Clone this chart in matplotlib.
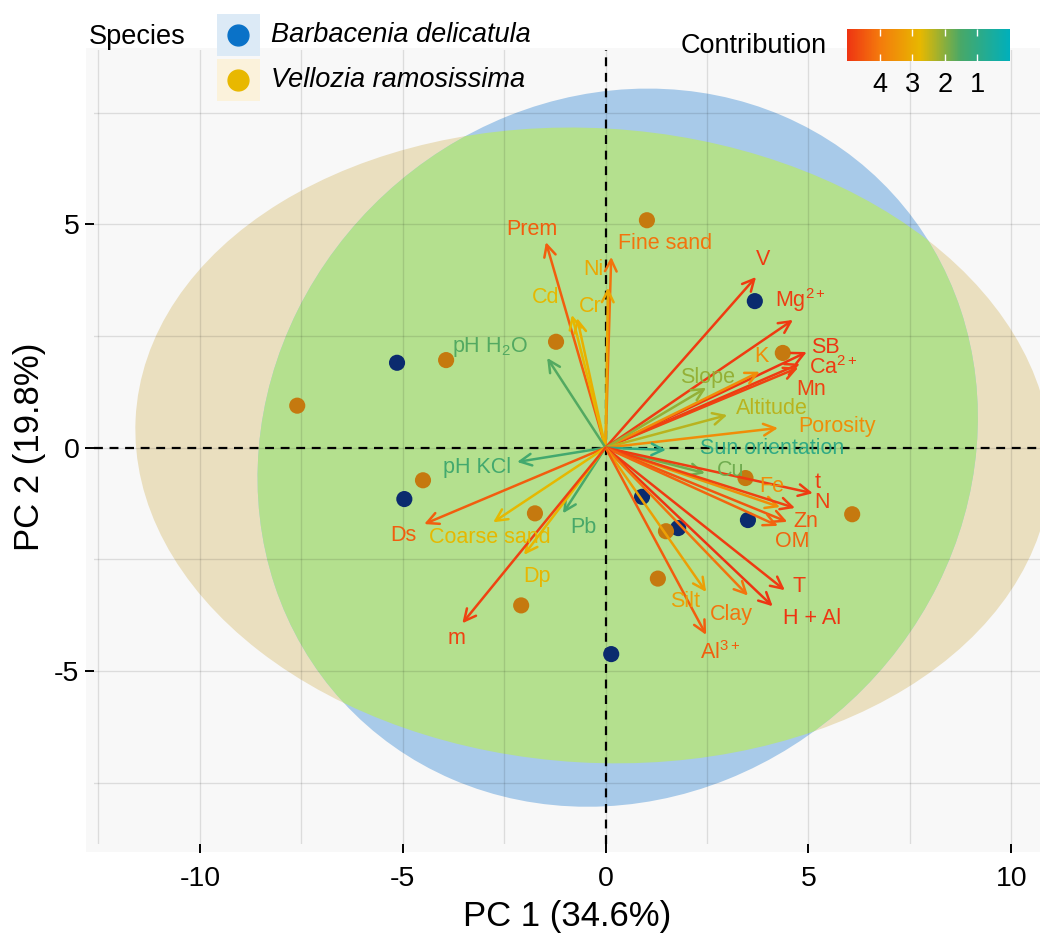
import matplotlib
matplotlib.use("Agg")
import matplotlib.pyplot as plt
import numpy as np
from matplotlib.patches import Ellipse, Rectangle
from matplotlib.lines import Line2D
from matplotlib.colors import LinearSegmentedColormap, Normalize
from matplotlib.cm import ScalarMappable

plt.rcParams['font.family'] = ['Liberation Sans', 'DejaVu Sans']
plt.rcParams['mathtext.fontset'] = 'custom'
plt.rcParams['mathtext.rm'] = 'Liberation Sans'
plt.rcParams['mathtext.it'] = 'Liberation Sans:italic'
plt.rcParams['axes.unicode_minus'] = False

# ---------------- data ----------------
species = ["Barbacenia delicatula", "Vellozia ramosissima"]

barb_pc1 = [-5.14, 3.68, -4.96, 0.90, 1.79, 3.51, 0.14]
barb_pc2 = [1.90, 3.28, -1.15, -1.10, -1.80, -1.62, -4.62]

vell_pc1 = [-7.60, -3.93, -1.22, 1.02, 4.37, 3.45, 6.08, -4.50, -1.74, 1.49, 1.29, -2.08]
vell_pc2 = [0.94, 1.96, 2.37, 5.09, 2.12, -0.68, -1.49, -0.73, -1.47, -1.87, -2.93, -3.53]

# confidence ellipses: center x, center y, semi-axis a, semi-axis b, angle (deg)
barb_ellipse = [0.3, 0.0, 9.0, 7.9, 20]
vell_ellipse = [-0.3, 0.05, 11.3, 7.1, -3]

var_names = ["Prem", "Fine sand", "Ni", "Cd", "Cr", "pH H$_2$O", "V", "Mg$^{2+}$",
             "SB", "Ca$^{2+}$", "Mn", "K", "Slope", "Altitude", "Porosity",
             "Sun orientation", "Cu", "Fe", "t", "N", "Zn", "OM", "T", "H + Al",
             "Clay", "Silt", "Al$^{3+}$", "pH KCl", "Ds", "Coarse sand", "Pb",
             "Dp", "m"]
var_pc1 = [-1.47, 0.14, 0.06, -0.83, -0.70, -1.44, 3.71, 4.62,
           4.96, 4.79, 4.75, 3.80, 2.48, 3.00, 4.25,
           1.49, 2.45, 4.30, 5.11, 4.67, 4.48, 4.25, 4.42, 4.12,
           3.51, 2.48, 2.48, -2.18, -4.47, -2.77, -1.05,
           -2.01, -3.53]
var_pc2 = [4.60, 4.27, 3.58, 2.97, 2.90, 2.01, 3.82, 2.86,
           2.14, 1.88, 1.79, 1.70, 1.34, 0.73, 0.44,
           -0.05, -0.57, -1.33, -1.02, -1.35, -1.66, -1.75, -3.19, -3.55,
           -3.31, -3.23, -4.19, -0.32, -1.71, -1.67, -1.47,
           -2.40, -3.93]
var_contrib = [4.4, 4.1, 3.1, 2.75, 2.9, 1.6, 4.9, 4.9,
               5.0, 4.9, 4.8, 3.6, 2.1, 2.4, 3.6,
               1.0, 1.8, 3.6, 4.9, 4.8, 4.5, 4.3, 4.9, 5.0,
               4.1, 3.25, 4.4, 1.4, 4.4, 2.75, 1.5,
               2.8, 4.8]
contrib_ticks = [4, 3, 2, 1]
x_ticks = [-10, -5, 0, 5, 10]
y_ticks = [-5, 0, 5]

# ---------------- layout / style ----------------
label_offsets = {  # pixel offsets of labels from arrow tips
    "Prem": (-14, 13), "Fine sand": (54, 13), "Ni": (-15, 18), "Cd": (-26, 17),
    "Cr": (13, 12), "pH H$_2$O": (-57, 11), "V": (7, 17), "Mg$^{2+}$": (8, 20),
    "SB": (19, 5), "Ca$^{2+}$": (33, -4), "Mn": (13, -22), "K": (2, 15),
    "Slope": (1, 10), "Altitude": (45, 7), "Porosity": (59, 2),
    "Sun orientation": (106, 1), "Cu": (26, 3), "Fe": (-8, 21), "t": (5, 11),
    "N": (27, 5), "Zn": (19, 0), "OM": (14, -16), "T": (14, 4),
    "H + Al": (39, -12), "Clay": (-17, -19), "Silt": (-21, -10),
    "Al$^{3+}$": (14, -18), "pH KCl": (-40, -6), "Ds": (-21, -11),
    "Coarse sand": (-3, -15), "Pb": (20, -14), "Dp": (13, -22), "m": (-6, -15),
}

W, H = 1040, 939
def fx(px):
    return px / W
def fy(py):
    return 1 - py / H

cmap = LinearSegmentedColormap.from_list(
    "contrib", [(0.0, "#00AFBB"), (0.3, "#48A868"), (0.55, "#E7B800"),
                (0.8, "#F47A0C"), (1.0, "#EE3412")])
norm = Normalize(vmin=0.0, vmax=5.0)

fig = plt.figure(figsize=(W / 100, H / 100), dpi=100)
fig.patches.append(Rectangle((fx(86), fy(852)), fx(1040) - fx(86), fy(48) - fy(852),
                             transform=fig.transFigure, facecolor='#F8F8F8',
                             edgecolor='none', zorder=-5))

ax = fig.add_axes([fx(94), fy(844), (1040 - 94) / W, (844 - 50) / H])
ax.set_zorder(1)
ax.set_facecolor('#F8F8F8')
for s in ax.spines.values():
    s.set_visible(False)
ax.set_xlim(-12.61, 10.71)
ax.set_ylim(-8.87, 8.90)

# ellipses
ye = Ellipse((vell_ellipse[0], vell_ellipse[1]), 2 * vell_ellipse[2], 2 * vell_ellipse[3],
             angle=vell_ellipse[4], facecolor='#EADFBF', edgecolor='none', zorder=0.2)
ax.add_patch(ye)
be = Ellipse((barb_ellipse[0], barb_ellipse[1]), 2 * barb_ellipse[2], 2 * barb_ellipse[3],
             angle=barb_ellipse[4], facecolor='#A8CAE9', edgecolor='none', zorder=0.25)
ax.add_patch(be)
ge = Ellipse((barb_ellipse[0], barb_ellipse[1]), 2 * barb_ellipse[2], 2 * barb_ellipse[3],
             angle=barb_ellipse[4], facecolor='#B4E08E', edgecolor='none', zorder=0.3)
ax.add_patch(ge)
ge.set_clip_path(ye)

# grid
ax.set_axisbelow(True)
ax.set_xticks(x_ticks)
ax.set_yticks(y_ticks)
ax.set_xticks([-12.5, -7.5, -2.5, 2.5, 7.5], minor=True)
ax.set_yticks([-7.5, -2.5, 2.5, 7.5], minor=True)
ax.grid(True, which='both', color='black', alpha=0.11, linewidth=1.0)
ax.tick_params(which='minor', length=0)
ax.tick_params(which='major', direction='out', length=6.5, width=1.4, color='black',
               labelsize=20.5, labelcolor='black')
ax.tick_params(axis='x', pad=9)
ax.tick_params(axis='y', pad=4)

# zero lines
ax.axhline(0, color='black', lw=1.6, ls=(0, (4, 3)), zorder=1.5)
ax.axvline(0, color='black', lw=1.6, ls=(0, (4, 3)), zorder=1.5)

# individuals
ax.scatter(barb_pc1, barb_pc2, s=135, color='#0B2B6E', edgecolor='none', zorder=2)
ax.scatter(vell_pc1, vell_pc2, s=135, color='#C5790F', edgecolor='none', zorder=2)

# variables
for name, x, y, c in zip(var_names, var_pc1, var_pc2, var_contrib):
    col = cmap(norm(c))
    ax.annotate('', xy=(x, y), xytext=(0, 0),
                arrowprops=dict(arrowstyle='->, head_length=0.7, head_width=0.35',
                                color=col, lw=1.8, shrinkA=0, shrinkB=0,
                                mutation_scale=12),
                zorder=3)
for name, x, y, c in zip(var_names, var_pc1, var_pc2, var_contrib):
    col = cmap(norm(c))
    ax.annotate(name, xy=(x, y), xytext=label_offsets[name], textcoords='offset pixels',
                ha='center', va='center', color=col, fontsize=15.5, zorder=4)

ax.set_xlabel('PC 1 (34.6%)', fontsize=25, labelpad=6)
ax.set_ylabel('PC 2 (19.8%)', fontsize=25, labelpad=6)

# species legend
fig.text(fx(89), fy(37), 'Species', fontsize=19.5, ha='left', va='center', zorder=5)
key_bg = ['#DCEAF6', '#FBF2DB']
key_dot = ['#0A72C8', '#E8B800']
key_y = [35, 80]
for i, sp in enumerate(species):
    fig.patches.append(Rectangle((fx(217), fy(key_y[i] + 21)), 43 / W, 42 / H,
                                 transform=fig.transFigure, facecolor=key_bg[i],
                                 edgecolor='none', zorder=5))
    fig.add_artist(Line2D([fx(238)], [fy(key_y[i])], marker='o', markersize=15,
                          color=key_dot[i], linestyle='none', transform=fig.transFigure,
                          zorder=6))
    fig.text(fx(271), fy(key_y[i]), sp, fontsize=19.5, style='italic',
             ha='left', va='center', zorder=6)

# contribution colorbar
fig.text(fx(827), fy(46), 'Contribution', fontsize=19.5, ha='right', va='center', zorder=6)
cax = fig.add_axes([fx(847), fy(61), (1010 - 847) / W, (61 - 29) / H])
cax.set_zorder(6)
sm = ScalarMappable(norm=norm, cmap=cmap)
cb = fig.colorbar(sm, cax=cax, orientation='horizontal')
cb.outline.set_visible(False)
cax.invert_xaxis()
cb.set_ticks(contrib_ticks)
cb.set_ticklabels([str(t) for t in contrib_ticks])
cax.xaxis.set_ticks_position('both')
cax.tick_params(axis='x', direction='in', length=5, width=1, color='white',
                labelsize=19.5, labelcolor='black', pad=8, labeltop=False,
                labelbottom=True)

fig.savefig('out.png', dpi=100)
